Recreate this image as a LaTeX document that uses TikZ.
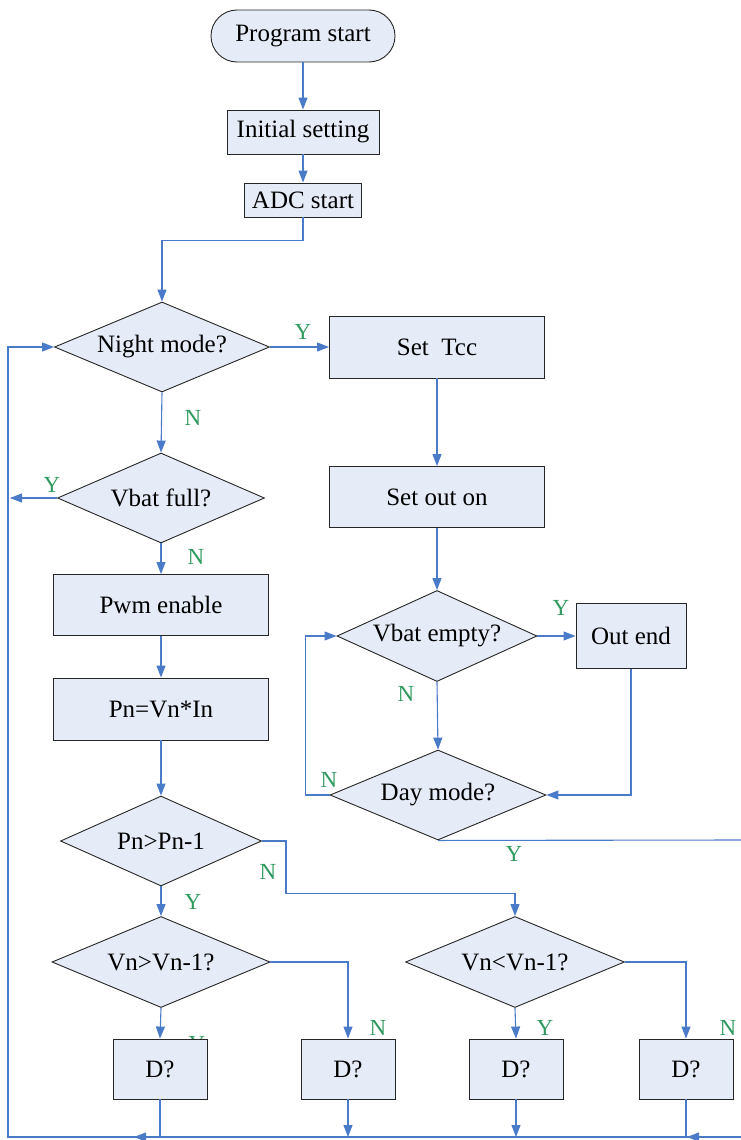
\documentclass[tikz,border=0pt]{standalone}
\usepackage{fontspec}
\setmainfont{Liberation Serif}
\usetikzlibrary{shapes.geometric,arrows.meta,calc}
\definecolor{linkblue}{HTML}{4A7BC8}
\definecolor{boxfill}{HTML}{E6ECF7}
\definecolor{yngreen}{HTML}{2E9A5E}
\begin{document}
\begin{tikzpicture}[x=1pt,y=-1pt,
  font=\fontsize{25}{28}\selectfont,
  base/.style={draw=black!85, line width=0.9pt, fill=boxfill, inner sep=0pt},
  proc/.style 2 args={base, rectangle, minimum width=#1, minimum height=#2},
  term/.style={base, rectangle, rounded corners=26pt, minimum width=184, minimum height=52},
  decide/.style 2 args={base, diamond, aspect=2.4, minimum width=#1, minimum height=#2},
  conn/.style={draw=linkblue, line width=1.1pt},
  arr/.style={conn, -{Triangle[length=12pt,width=9pt]}},
  yn/.style={text=yngreen, inner sep=0pt, font=\fontsize{23}{26}\selectfont}]
\useasboundingbox (0,0) rectangle (741,1140);

% start-up sequence
\node[term] (ps) at (303,36) {Program start};
\node[proc={152}{44}] (init) at (303,132) {Initial setting};
\node[proc={117}{34}] (adc) at (303,200) {ADC start};

% left column: charging branch
\node[decide={215}{90}] (night) at (162,347) {Night mode?};
\node[decide={207}{90}] (vfull) at (161,498) {Vbat full?};
\node[proc={215}{61}] (pwm) at (161,605) {Pwm enable};
\node[proc={215}{62}] (pn) at (161,709) {Pn=Vn*In};
\node[decide={201}{90}] (cmpP) at (161,841) {Pn>Pn-1};
\node[decide={218}{91}] (vgt) at (161,962) {Vn>Vn-1?};
\node[decide={219}{91}] (vlt) at (515,962) {Vn<Vn-1?};

% right column: night output branch
\node[proc={215}{62}] (tcc) at (437,347) {Set\ \ Tcc};
\node[proc={215}{61}] (setout) at (437,497) {Set out on};
\node[decide={200}{91}] (vempty) at (437,636) {Vbat empty?};
\node[proc={110}{65}] (outend) at (631,636) {Out end};
\node[decide={216}{90}] (day) at (438,795) {Day mode?};

% duty-cycle steps (the first Y label sits partly behind its box)
\node[yn] (ylab6) at (197,1044) {Y};
\node[proc={94}{60}] (d1) at (160,1069) {D?};
\node[proc={94}{60}] (d2) at (348,1069) {D?};
\node[proc={94}{60}] (d3) at (516,1069) {D?};
\node[proc={94}{60}] (d4) at (686,1069) {D?};

% free ends and bends of the return paths
\coordinate (fullend) at (10,498);
\coordinate (dayend) at (741,840);
\coordinate (botR) at (741,1137);
\coordinate (botL) at (8,1137);
\coordinate (tip1) at (134,1137);
\coordinate (tip4) at (687,1137);

% connectors
\draw[arr] (ps) -- (init);
\draw[arr] (init) -- (adc);
\draw[arr] (adc.south) -- ++(0,23) -| (night.north);
\draw[arr] (night.east) -- (tcc.west);
\draw[arr] (night.south) -- (vfull.north);
\draw[arr] (vfull.west) -- (fullend);
\draw[arr] (vfull.south) -- (pwm.north);
\draw[arr] (pwm) -- (pn);
\draw[arr] (pn) -- (cmpP);
\draw[arr] (cmpP.east) -- ++(24,0) |- ($(vlt.north)+(0,-23)$) -- (vlt.north);
\draw[arr] (cmpP.south) -- (vgt.north);
\draw[arr] (vgt.south) -- (d1.north);
\draw[arr] (vgt.east) -| (d2.north);
\draw[arr] (vlt.south) -- (d3.north);
\draw[arr] (vlt.east) -| (d4.north);
\draw[arr] (tcc) -- (setout);
\draw[arr] (setout) -- (vempty);
\draw[arr] (vempty.east) -- (outend.west);
\draw[arr] (vempty.south) -- (day.north);
\draw[arr] (outend.south) |- (day.east);
\draw[arr] (day.west) -- ++(-24,0) |- (vempty.west);
\draw[conn] (day.south) -- (dayend);

% return line along the bottom and up the left side
\draw[arr] (botR) -- (botL) |- (night.west);
\draw[arr] (botR) -- (tip4);
\draw[conn] (d4.south) -- (d4.south |- botR);
\draw[arr] (d1.south) |- (tip1);
\draw[arr] (d2.south) -- (d2.south |- botL);
\draw[arr] (d3.south) -- (d3.south |- botL);

% branch labels
\node[yn] (ylab1) at (303,332) {Y};
\node[yn] (nlab1) at (193,418) {N};
\node[yn] (ylab2) at (52,485) {Y};
\node[yn] (nlab2) at (196,557) {N};
\node[yn] (ylab3) at (561,608) {Y};
\node[yn] (nlab3) at (406,694) {N};
\node[yn] (nlab4) at (329,780) {N};
\node[yn] (ylab4) at (514,854) {Y};
\node[yn] (nlab5) at (268,872) {N};
\node[yn] (ylab5) at (193,902) {Y};
\node[yn] (nlab6) at (378,1028) {N};
\node[yn] (ylab7) at (545,1028) {Y};
\node[yn] (nlab7) at (728,1028) {N};
\end{tikzpicture}
\end{document}
